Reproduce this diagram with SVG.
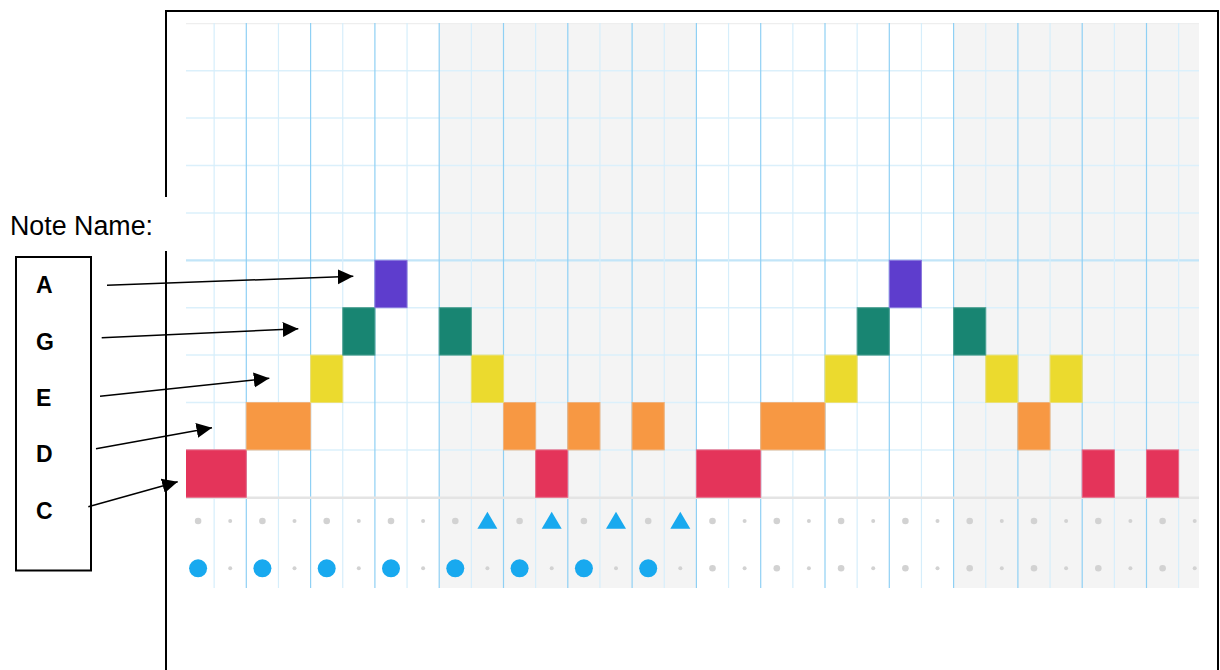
<svg xmlns="http://www.w3.org/2000/svg" width="1220" height="670" viewBox="0 0 1220 670">
<style>
.vb{stroke:#8fd0f4;stroke-width:1.2}
.vt{stroke:#d6eefb;stroke-width:1.2}
.h{stroke:#dbf0fb;stroke-width:1.5}
.gd{fill:#d2d2d2}
.bl{fill:#18a9ef}
.C{fill:#e33057;stroke:#e86a86;stroke-width:1}
.D{fill:#f7963f;stroke:#f0b27c;stroke-width:1}
.E{fill:#ebd92a;stroke:#ece074;stroke-width:1}
.G{fill:#13836f;stroke:#4d9f90;stroke-width:1}
.A{fill:#5b39cc;stroke:#8a78dc;stroke-width:1}
.lbl{font-family:"Liberation Sans",Arial,sans-serif;font-weight:bold;font-size:23px;fill:#000}
.conn{stroke:#000;stroke-width:1.5;fill:none}
</style>
<defs>
<clipPath id="gridclip"><rect x="186" y="23" width="1013" height="565"/></clipPath>
<marker id="ah" markerUnits="userSpaceOnUse" markerWidth="16" markerHeight="16" refX="15.5" refY="7.5" orient="auto">
<path d="M0,0 L15.5,7.5 L0,15 z" fill="#000"/>
</marker>
<g id="tri"><path d="M-10,8.5 L0,-8.5 L10,8.5 z"/></g>
</defs>
<rect width="1220" height="670" fill="#fff"/>
<g id="frame"><rect x="166" y="11" width="1052" height="680" fill="none" stroke="#000" stroke-width="2"/></g>
<g id="grid" clip-path="url(#gridclip)">
<rect x="186" y="23" width="1013" height="565" fill="#fff"/>
<rect x="439.2" y="23" width="257.2" height="565" fill="#f4f4f4"/>
<rect x="953.6" y="23" width="260" height="565" fill="#f4f4f4"/>
<line x1="186" y1="23.5" x2="1199" y2="23.5" stroke="#eeeeee" stroke-width="1.5"/>
<g class="h">
<line x1="186" y1="70.7" x2="1199" y2="70.7"/>
<line x1="186" y1="118.1" x2="1199" y2="118.1"/>
<line x1="186" y1="165.5" x2="1199" y2="165.5"/>
<line x1="186" y1="212.9" x2="1199" y2="212.9"/>
<line x1="186" y1="307.7" x2="1199" y2="307.7"/>
<line x1="186" y1="355.1" x2="1199" y2="355.1"/>
<line x1="186" y1="402.5" x2="1199" y2="402.5"/>
<line x1="186" y1="449.9" x2="1199" y2="449.9"/>
</g>
<line x1="186" y1="260.3" x2="1199" y2="260.3" stroke="#c2e5f8" stroke-width="2.2"/>
<g class="vt">
<line x1="214.15" y1="23" x2="214.15" y2="588"/>
<line x1="278.45" y1="23" x2="278.45" y2="588"/>
<line x1="342.75" y1="23" x2="342.75" y2="588"/>
<line x1="407.05" y1="23" x2="407.05" y2="588"/>
<line x1="471.35" y1="23" x2="471.35" y2="588"/>
<line x1="535.65" y1="23" x2="535.65" y2="588"/>
<line x1="599.95" y1="23" x2="599.95" y2="588"/>
<line x1="664.25" y1="23" x2="664.25" y2="588"/>
<line x1="728.55" y1="23" x2="728.55" y2="588"/>
<line x1="792.85" y1="23" x2="792.85" y2="588"/>
<line x1="857.15" y1="23" x2="857.15" y2="588"/>
<line x1="921.45" y1="23" x2="921.45" y2="588"/>
<line x1="985.75" y1="23" x2="985.75" y2="588"/>
<line x1="1050.05" y1="23" x2="1050.05" y2="588"/>
<line x1="1114.35" y1="23" x2="1114.35" y2="588"/>
<line x1="1178.65" y1="23" x2="1178.65" y2="588"/>
</g>
<g class="vb">
<line x1="246.3" y1="23" x2="246.3" y2="588"/>
<line x1="310.6" y1="23" x2="310.6" y2="588"/>
<line x1="374.9" y1="23" x2="374.9" y2="588"/>
<line x1="439.2" y1="23" x2="439.2" y2="588"/>
<line x1="503.5" y1="23" x2="503.5" y2="588"/>
<line x1="567.8" y1="23" x2="567.8" y2="588"/>
<line x1="632.1" y1="23" x2="632.1" y2="588"/>
<line x1="696.4" y1="23" x2="696.4" y2="588"/>
<line x1="760.7" y1="23" x2="760.7" y2="588"/>
<line x1="825" y1="23" x2="825" y2="588"/>
<line x1="889.3" y1="23" x2="889.3" y2="588"/>
<line x1="953.6" y1="23" x2="953.6" y2="588"/>
<line x1="1017.9" y1="23" x2="1017.9" y2="588"/>
<line x1="1082.2" y1="23" x2="1082.2" y2="588"/>
<line x1="1146.5" y1="23" x2="1146.5" y2="588"/>
</g>
<line x1="186" y1="497.8" x2="1199" y2="497.8" stroke="#e4e4e4" stroke-width="2.5"/>
<g id="notes" fill-opacity="0.98">
<rect class="C" x="182" y="449.9" width="64.3" height="47.4"/>
<rect class="C" x="535.65" y="449.9" width="32.15" height="47.4"/>
<rect class="C" x="696.4" y="449.9" width="64.3" height="47.4"/>
<rect class="C" x="1082.2" y="449.9" width="32.15" height="47.4"/>
<rect class="C" x="1146.5" y="449.9" width="32.15" height="47.4"/>
<rect class="D" x="246.3" y="402.5" width="64.3" height="47.4"/>
<rect class="D" x="503.5" y="402.5" width="32.15" height="47.4"/>
<rect class="D" x="567.8" y="402.5" width="32.15" height="47.4"/>
<rect class="D" x="632.1" y="402.5" width="32.15" height="47.4"/>
<rect class="D" x="760.7" y="402.5" width="64.3" height="47.4"/>
<rect class="D" x="1017.9" y="402.5" width="32.15" height="47.4"/>
<rect class="E" x="310.6" y="355.1" width="32.15" height="47.4"/>
<rect class="E" x="471.35" y="355.1" width="32.15" height="47.4"/>
<rect class="E" x="825" y="355.1" width="32.15" height="47.4"/>
<rect class="E" x="985.75" y="355.1" width="32.15" height="47.4"/>
<rect class="E" x="1050.05" y="355.1" width="32.15" height="47.4"/>
<rect class="G" x="342.75" y="307.7" width="32.15" height="47.4"/>
<rect class="G" x="439.2" y="307.7" width="32.15" height="47.4"/>
<rect class="G" x="857.15" y="307.7" width="32.15" height="47.4"/>
<rect class="G" x="953.6" y="307.7" width="32.15" height="47.4"/>
<rect class="A" x="374.9" y="260.3" width="32.15" height="47.4"/>
<rect class="A" x="889.3" y="260.3" width="32.15" height="47.4"/>
</g>
<g id="perc-row1">
<circle class="gd" cx="198.1" cy="521" r="3.3"/>
<circle class="gd" cx="230.2" cy="521" r="2"/>
<circle class="gd" cx="262.4" cy="521" r="3.3"/>
<circle class="gd" cx="294.5" cy="521" r="2"/>
<circle class="gd" cx="326.7" cy="521" r="3.3"/>
<circle class="gd" cx="358.8" cy="521" r="2"/>
<circle class="gd" cx="391" cy="521" r="3.3"/>
<circle class="gd" cx="423.1" cy="521" r="2"/>
<circle class="gd" cx="455.3" cy="521" r="3.3"/>
<use href="#tri" class="bl" x="487.4" y="520.2"/>
<circle class="gd" cx="519.6" cy="521" r="3.3"/>
<use href="#tri" class="bl" x="551.7" y="520.2"/>
<circle class="gd" cx="583.9" cy="521" r="3.3"/>
<use href="#tri" class="bl" x="616" y="520.2"/>
<circle class="gd" cx="648.2" cy="521" r="3.3"/>
<use href="#tri" class="bl" x="680.3" y="520.2"/>
<circle class="gd" cx="712.5" cy="521" r="3.3"/>
<circle class="gd" cx="744.6" cy="521" r="2"/>
<circle class="gd" cx="776.8" cy="521" r="3.3"/>
<circle class="gd" cx="808.9" cy="521" r="2"/>
<circle class="gd" cx="841.1" cy="521" r="3.3"/>
<circle class="gd" cx="873.2" cy="521" r="2"/>
<circle class="gd" cx="905.4" cy="521" r="3.3"/>
<circle class="gd" cx="937.5" cy="521" r="2"/>
<circle class="gd" cx="969.7" cy="521" r="3.3"/>
<circle class="gd" cx="1001.8" cy="521" r="2"/>
<circle class="gd" cx="1034" cy="521" r="3.3"/>
<circle class="gd" cx="1066.1" cy="521" r="2"/>
<circle class="gd" cx="1098.3" cy="521" r="3.3"/>
<circle class="gd" cx="1130.4" cy="521" r="2"/>
<circle class="gd" cx="1162.6" cy="521" r="3.3"/>
<circle class="gd" cx="1194.7" cy="521" r="2"/>
</g>
<g id="perc-row2">
<circle class="bl" cx="198.1" cy="568.3" r="9"/>
<circle class="gd" cx="230.2" cy="568.3" r="2"/>
<circle class="bl" cx="262.4" cy="568.3" r="9"/>
<circle class="gd" cx="294.5" cy="568.3" r="2"/>
<circle class="bl" cx="326.7" cy="568.3" r="9"/>
<circle class="gd" cx="358.8" cy="568.3" r="2"/>
<circle class="bl" cx="391" cy="568.3" r="9"/>
<circle class="gd" cx="423.1" cy="568.3" r="2"/>
<circle class="bl" cx="455.3" cy="568.3" r="9"/>
<circle class="gd" cx="487.4" cy="568.3" r="2"/>
<circle class="bl" cx="519.6" cy="568.3" r="9"/>
<circle class="gd" cx="551.7" cy="568.3" r="2"/>
<circle class="bl" cx="583.9" cy="568.3" r="9"/>
<circle class="gd" cx="616" cy="568.3" r="2"/>
<circle class="bl" cx="648.2" cy="568.3" r="9"/>
<circle class="gd" cx="680.3" cy="568.3" r="2"/>
<circle class="gd" cx="712.5" cy="568.3" r="3.3"/>
<circle class="gd" cx="744.6" cy="568.3" r="2"/>
<circle class="gd" cx="776.8" cy="568.3" r="3.3"/>
<circle class="gd" cx="808.9" cy="568.3" r="2"/>
<circle class="gd" cx="841.1" cy="568.3" r="3.3"/>
<circle class="gd" cx="873.2" cy="568.3" r="2"/>
<circle class="gd" cx="905.4" cy="568.3" r="3.3"/>
<circle class="gd" cx="937.5" cy="568.3" r="2"/>
<circle class="gd" cx="969.7" cy="568.3" r="3.3"/>
<circle class="gd" cx="1001.8" cy="568.3" r="2"/>
<circle class="gd" cx="1034" cy="568.3" r="3.3"/>
<circle class="gd" cx="1066.1" cy="568.3" r="2"/>
<circle class="gd" cx="1098.3" cy="568.3" r="3.3"/>
<circle class="gd" cx="1130.4" cy="568.3" r="2"/>
<circle class="gd" cx="1162.6" cy="568.3" r="3.3"/>
<circle class="gd" cx="1194.7" cy="568.3" r="2"/>
</g>
</g>
<g id="note-name-title">
<rect x="0" y="197" width="178" height="54" fill="#fff"/>
<text x="10" y="235" font-family="'Liberation Sans',Arial,sans-serif" font-size="26.8" fill="#000">Note Name:</text>
</g>
<g id="label-box">
<rect x="16" y="257" width="75" height="313.5" fill="#fff" stroke="#000" stroke-width="2"/>
</g>
<g id="label-A"><text class="lbl" x="36" y="293">A</text></g>
<g id="label-G"><text class="lbl" x="36" y="349.5">G</text></g>
<g id="label-E"><text class="lbl" x="36" y="406">E</text></g>
<g id="label-D"><text class="lbl" x="36" y="462">D</text></g>
<g id="label-C"><text class="lbl" x="36" y="518.5">C</text></g>
<g id="connectors">
<line class="conn" x1="107" y1="285.3" x2="353.3" y2="276.3" marker-end="url(#ah)"/>
<line class="conn" x1="101.7" y1="337.7" x2="298.3" y2="328.7" marker-end="url(#ah)"/>
<line class="conn" x1="100" y1="396.3" x2="269.3" y2="378.3" marker-end="url(#ah)"/>
<line class="conn" x1="96" y1="448.7" x2="212" y2="427.7" marker-end="url(#ah)"/>
<line class="conn" x1="88.3" y1="506.7" x2="177.7" y2="481.7" marker-end="url(#ah)"/>
</g>
</svg>
